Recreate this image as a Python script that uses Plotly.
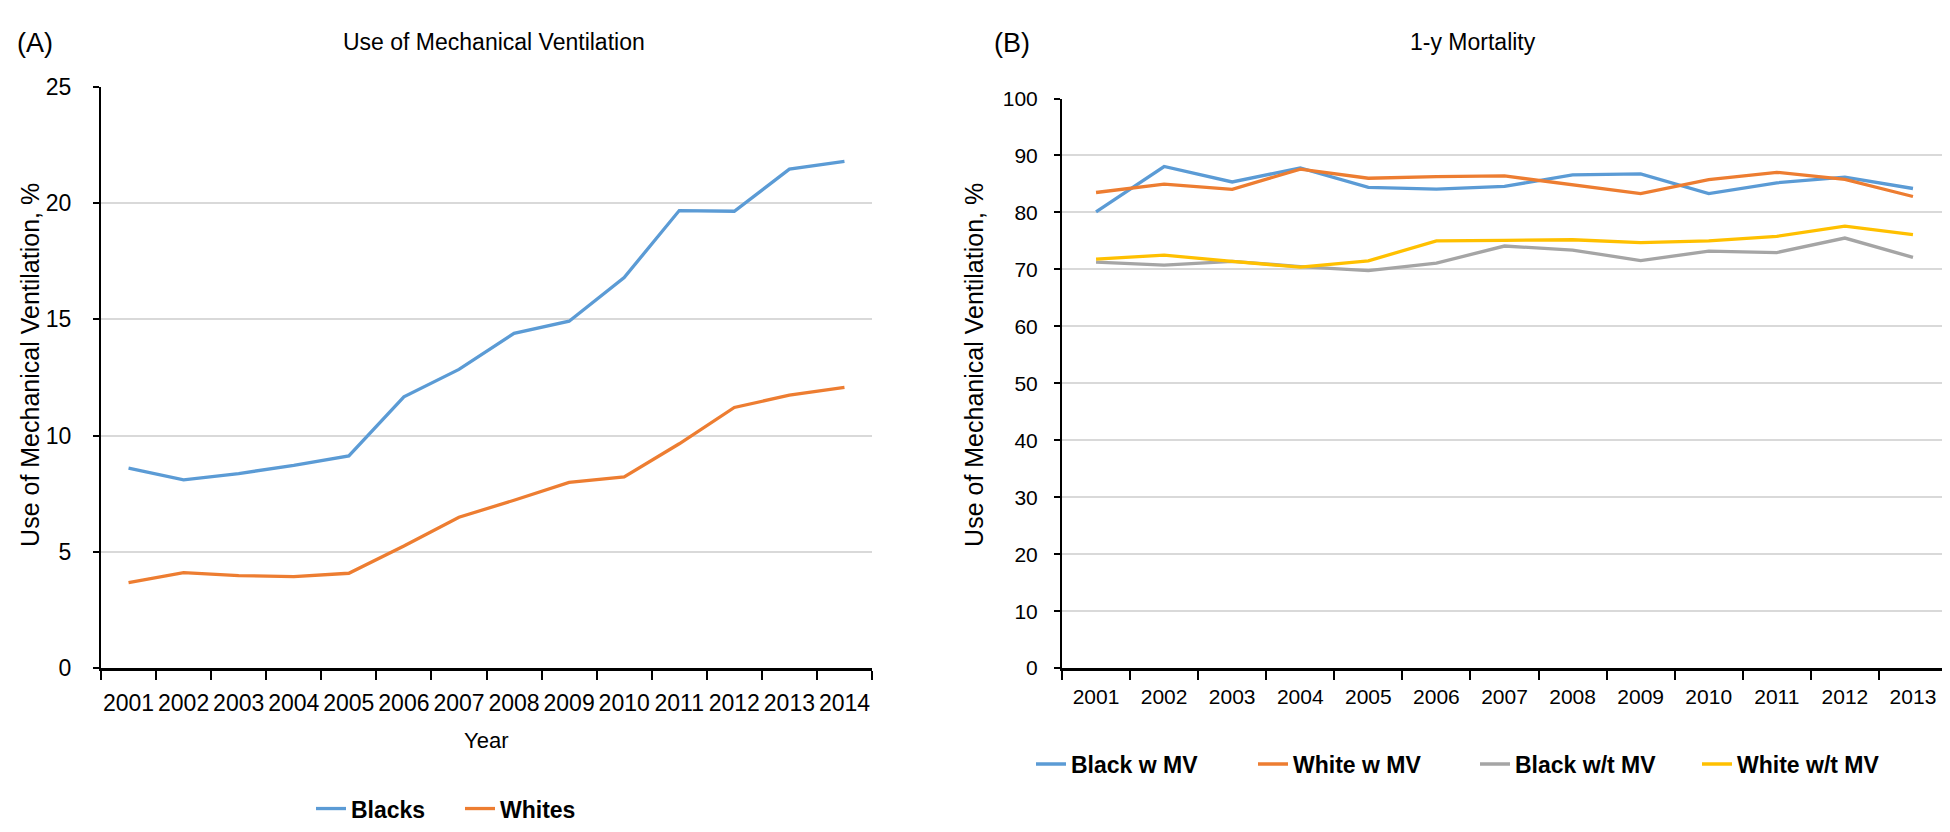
import plotly.graph_objects as go

years_a = [str(y) for y in range(2001, 2015)]
blacks = [8.6, 8.1, 8.37, 8.72, 9.13, 11.67, 12.85, 14.4, 14.92, 16.8, 19.68, 19.65, 21.46, 21.8]
whites = [3.68, 4.11, 3.98, 3.94, 4.08, 5.25, 6.49, 7.22, 7.99, 8.22, 9.65, 11.21, 11.74, 12.08]

years_b = [str(y) for y in range(2001, 2014)]
black_w_mv = [80.1, 88.06, 85.35, 87.8, 84.4, 84.1, 84.56, 86.6, 86.76, 83.3, 85.2, 86.2, 84.2]
white_w_mv = [83.5, 84.96, 84.06, 87.6, 86.0, 86.3, 86.4, 84.9, 83.3, 85.75, 87.04, 85.8, 82.8]
black_wt_mv = [71.27, 70.76, 71.4, 70.5, 69.8, 71.1, 74.1, 73.4, 71.55, 73.2, 72.96, 75.5, 72.1]
white_wt_mv = [71.8, 72.5, 71.4, 70.4, 71.5, 75.0, 75.1, 75.2, 74.7, 75.0, 75.8, 77.6, 76.1]

BLUE, ORANGE, GRAY, YELLOW = "#5B9BD5", "#ED7D31", "#A5A5A5", "#FFC000"
SANS = "'Liberation Sans', Arial, sans-serif"
W, H = 1950, 832

def px(x):
    return x / W

def py(y):
    return (H - y) / H

fig = go.Figure()
lw = 3.3
fig.add_trace(go.Scatter(x=years_a, y=blacks, name="Blacks", mode="lines",
                         line=dict(color=BLUE, width=lw), xaxis="x", yaxis="y", legend="legend"))
fig.add_trace(go.Scatter(x=years_a, y=whites, name="Whites", mode="lines",
                         line=dict(color=ORANGE, width=lw), xaxis="x", yaxis="y", legend="legend"))
for name, vals, col in [("Black w MV", black_w_mv, BLUE), ("White w MV", white_w_mv, ORANGE),
                        ("Black w/t MV", black_wt_mv, GRAY), ("White w/t MV", white_wt_mv, YELLOW)]:
    fig.add_trace(go.Scatter(x=years_b, y=vals, name=name, mode="lines",
                             line=dict(color=col, width=lw), xaxis="x2", yaxis="y2", legend="legend2"))

xcommon = dict(type="category", showline=True, linecolor="black", linewidth=3,
               ticks="outside", ticklen=9, tickwidth=2, tickcolor="black",
               tickson="boundaries", showgrid=False, zeroline=False, tickangle=0,
               fixedrange=True)
ycommon = dict(showline=True, linecolor="black", linewidth=2, ticks="outside", ticklen=6,
               tickwidth=2, tickcolor="black", showgrid=True, gridcolor="#D9D9D9", gridwidth=1.5,
               zeroline=False, fixedrange=True)

fig.update_layout(
    width=W, height=H,
    margin=dict(l=0, r=0, t=0, b=0),
    paper_bgcolor="white", plot_bgcolor="white",
    xaxis=dict(domain=[px(93), px(864)], anchor="y", range=[-0.5, 13.5], ticklabelstandoff=12,
               tickfont=dict(family=SANS, size=23, color="black"), **xcommon),
    yaxis=dict(domain=[py(668), py(68)], anchor="x", range=[0, 25], dtick=5, ticklabelstandoff=17,
               tickfont=dict(family=SANS, size=23, color="black"), **ycommon),
    xaxis2=dict(domain=[px(1054), px(1939)], anchor="y2", range=[-0.5, 12.5], ticklabelstandoff=8,
                tickfont=dict(family=SANS, size=21, color="black"), **xcommon),
    yaxis2=dict(domain=[py(668), py(80)], anchor="x2", range=[0, 100], dtick=10, ticklabelstandoff=12,
                tickfont=dict(family=SANS, size=21, color="black"), **ycommon),
    showlegend=True,
    legend=dict(orientation="h", x=px(303), y=py(813), xanchor="left", yanchor="middle",
                font=dict(family=SANS, size=23, color="black", weight="bold"),
                itemwidth=30, entrywidthmode="pixels", entrywidth=104,
                bgcolor="rgba(0,0,0,0)"),
    legend2=dict(orientation="h", x=px(1023), y=py(767), xanchor="left", yanchor="middle",
                 font=dict(family=SANS, size=23, color="black", weight="bold"),
                 itemwidth=30, entrywidthmode="pixels", entrywidth=177,
                 bgcolor="rgba(0,0,0,0)"),
)

annos = [
    dict(text="(A)", x=px(7), y=py(23), xanchor="left", yanchor="middle",
         font=dict(family=SANS, size=27, color="black")),
    dict(text="Use of Mechanical Ventilation", x=px(486), y=py(22), xanchor="center", yanchor="middle",
         font=dict(family=SANS, size=23, color="black")),
    dict(text="(B)", x=px(984), y=py(23), xanchor="left", yanchor="middle",
         font=dict(family=SANS, size=27, color="black")),
    dict(text="1-y Mortality", x=px(1465), y=py(22), xanchor="center", yanchor="middle",
         font=dict(family=SANS, size=23, color="black")),
    dict(text="Use of Mechanical Ventilation, %", x=px(22), y=py(355), textangle=-90,
         xanchor="center", yanchor="middle", font=dict(family=SANS, size=25, color="black")),
    dict(text="Use of Mechanical Ventilation, %", x=px(966), y=py(355), textangle=-90,
         xanchor="center", yanchor="middle", font=dict(family=SANS, size=25, color="black")),
    dict(text="Year", x=px(478), y=py(743), xanchor="center", yanchor="middle",
         font=dict(family=SANS, size=22, color="black")),
]
for a in annos:
    a.update(xref="paper", yref="paper", showarrow=False)
fig.update_layout(annotations=annos)

fig.write_html("out.html")
